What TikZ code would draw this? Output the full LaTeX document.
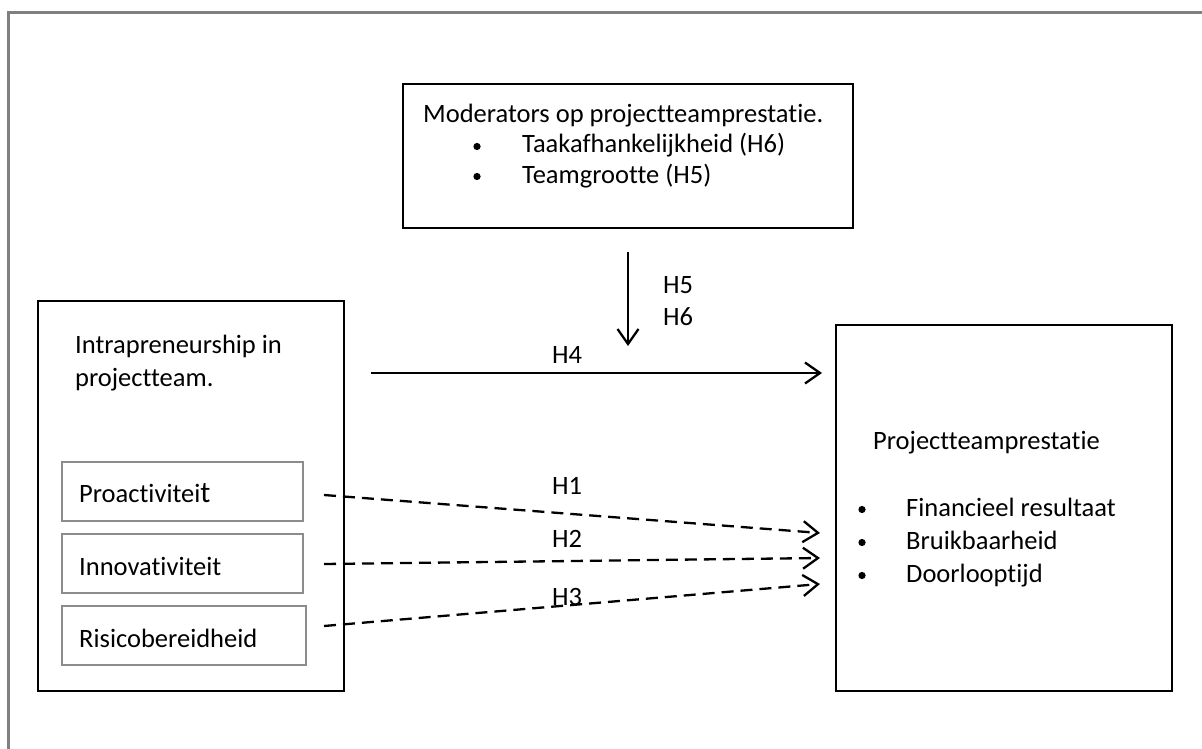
\documentclass[tikz,border=0pt]{standalone}
\usepackage{fontspec}
\setmainfont{Carlito}[Ligatures=NoCommon]
\usetikzlibrary{arrows.meta,positioning}
\tikzset{
  blackbox/.style={draw,line width=2.3pt,inner sep=0pt},
  greybox/.style={draw=black!45,line width=2pt,inner sep=0pt,minimum height=59pt},
  txt/.style={anchor=base west,inner sep=0pt},
  pijl/.style={line width=2.3pt,-{Straight Barb[length=15pt,width=21pt,line width=2.3pt]}},
  stippel/.style={pijl,dash pattern=on 12pt off 7pt}
}
\begin{document}
\begin{tikzpicture}[x=1pt,y=-1pt,line join=miter]
  \fontsize{26.5}{32}\selectfont
  \useasboundingbox (0,0) rectangle (1202,749);
  % kader
  \draw [black!50, line width=3pt] (1202,13) -- (8,13) -- (8,749);

  % blokken
  \node [blackbox, minimum width=450pt, minimum height=144pt] (moderators) at (628,156) {};
  \node [blackbox, minimum width=306pt, minimum height=390pt] (intra) at (191,496) {};
  \node [blackbox, minimum width=336pt, minimum height=366pt] (prestatie) at (1004,508) {};
  \node [greybox, minimum width=241pt] (pro) at (182.5,491.5) {};
  \node [greybox, minimum width=241pt] (inno) at (182.5,563.5) {};
  \node [greybox, minimum width=244pt] (risico) at (184,635.5) {};

  % teksten
  \node [txt] (modtitel) at (423,123) {Moderators op projectteamprestatie.};
  \node [txt] (mod1) at (522,153) {Taakafhankelijkheid (H6)};
  \node [txt] (mod2) at (522,183) {Teamgrootte (H5)};
  \foreach \y in {153,183} \fill (477,\y-6.5) circle (3.6);
  \node [txt] (intratitel) at (75,353) {Intrapreneurship in};
  \node [txt] (intratitel2) at (75,386) {projectteam.};
  \node [txt] (protxt) at (79,502) {Proactivitei{\fontsize{30}{32}\selectfont t}};
  \node [txt] (innotxt) at (79,575) {Innovativiteit};
  \node [txt] (risicotxt) at (79,647) {Risicobereidheid};
  \node [txt] (prestitel) at (873,449) {Projectteamprestatie};
  \node [txt] (pres1) at (906,516) {Financieel resultaat};
  \node [txt] (pres2) at (906,549) {Bruikbaarheid};
  \node [txt] (pres3) at (906,582) {Doorlooptijd};
  \foreach \y in {516,549,582} \fill (862,\y-6.5) circle (3.6);

  % pijlen
  \coordinate (mbegin) at (628,252);
  \coordinate (meind) at (628,346);
  \coordinate (h4begin) at (371,373);
  \coordinate (h4eind) at (822,373);
  \coordinate (t1) at (820,533);
  \coordinate (t2) at (820,558);
  \coordinate (t3) at (820,584);
  \draw [pijl] (mbegin) -- (meind);
  \draw [pijl] (h4begin) -- (h4eind);
  \draw [stippel] ([xshift=20pt,yshift=-3.5pt]pro.east) -- (t1);
  \draw [stippel] ([xshift=20pt,yshift=-0.5pt]inno.east) -- (t2);
  \draw [stippel] ([xshift=17pt,yshift=9.5pt]risico.east) -- (t3);

  \node [txt] (h5) at (663,293) {H5};
  \node [txt] (h6) at (663,325) {H6};
  \node [txt] (h4) at (552,363) {H4};
  \node [txt] (h1) at (552,494) {H1};
  \node [txt] (h2) at (552,547) {H2};
  \node [txt] (h3) at (552,605) {H3};
\end{tikzpicture}
\end{document}
